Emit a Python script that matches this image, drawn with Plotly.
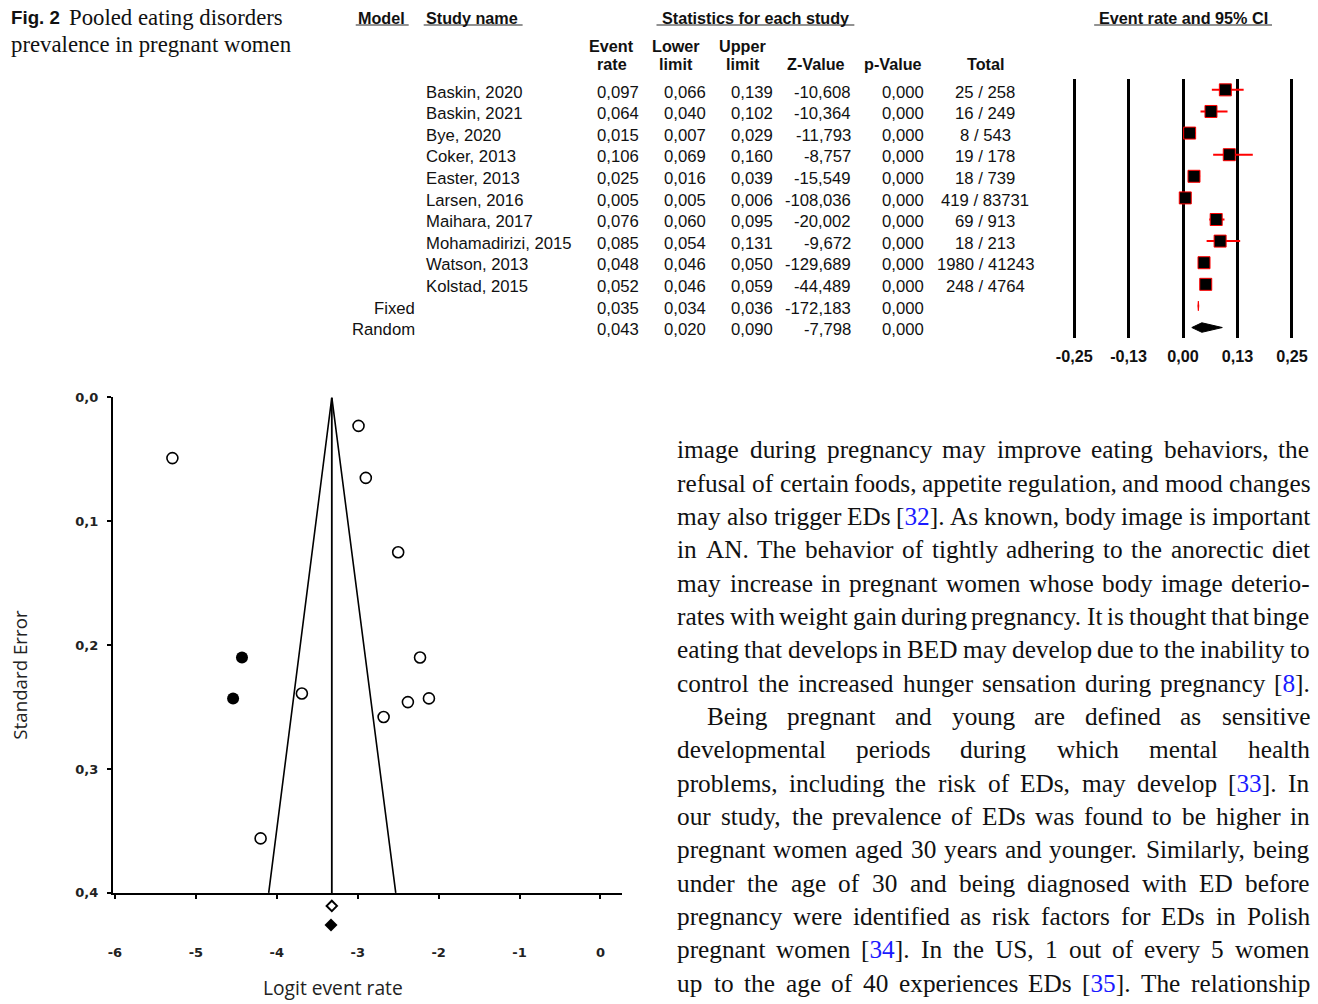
import re
import plotly.graph_objects as go

# Figure fills the 1318x1004 window; the photograph shows the window inside an
# 8px frame, shrunk to 1302x988.  Positions below are given in photograph pixels
# and converted with fx/fy; font sizes are compensated with SC.
W, H = 1318, 1004
FRAME = 8
VIS_W, VIS_H = W - 2 * FRAME, H - 2 * FRAME
SC = W / VIS_W

# ---------------- data: forest table ----------------
studies = ["Baskin, 2020", "Baskin, 2021", "Bye, 2020", "Coker, 2013", "Easter, 2013",
           "Larsen, 2016", "Maihara, 2017", "Mohamadirizi, 2015", "Watson, 2013", "Kolstad, 2015"]
event_rate = [0.097, 0.064, 0.015, 0.106, 0.025, 0.005, 0.076, 0.085, 0.048, 0.052]
lower_limit = [0.066, 0.040, 0.007, 0.069, 0.016, 0.005, 0.060, 0.054, 0.046, 0.046]
upper_limit = [0.139, 0.102, 0.029, 0.160, 0.039, 0.006, 0.095, 0.131, 0.050, 0.059]
z_value = [-10.608, -10.364, -11.793, -8.757, -15.549, -108.036, -20.002, -9.672, -129.689, -44.489]
p_value = [0.000] * 10
events = [25, 16, 8, 19, 18, 419, 69, 18, 1980, 248]
totals = [258, 249, 543, 178, 739, 83731, 913, 213, 41243, 4764]

pooled_models = ["Fixed", "Random"]
pooled_rate = [0.035, 0.043]
pooled_lower = [0.034, 0.020]
pooled_upper = [0.036, 0.090]
pooled_z = [-172.183, -7.798]
pooled_p = [0.000, 0.000]

forest_ticks = [-0.25, -0.125, 0.0, 0.125, 0.25]
forest_ticklabels = ["-0,25", "-0,13", "0,00", "0,13", "0,25"]

# ---------------- data: funnel plot ----------------
funnel_logit = [-2.23, -2.68, -4.20, -2.12, -3.69, -5.29, -2.50, -2.38, -2.99, -2.90]
funnel_se = [0.210, 0.258, 0.356, 0.243, 0.239, 0.049, 0.125, 0.246, 0.023, 0.065]
imputed_logit = [-4.43, -4.54]
imputed_se = [0.210, 0.243]
funnel_apex = -3.32
funnel_left = -4.10
funnel_right = -2.53
funnel_se_max = 0.4
observed_summary = -3.32
adjusted_summary = -3.33

funnel_xticks = [-6, -5, -4, -3, -2, -1, 0]
funnel_yticks = [0.0, 0.1, 0.2, 0.3, 0.4]
funnel_yticklabels = ["0,0", "0,1", "0,2", "0,3", "0,4"]

# ---------------- body text ----------------
body_lines = [
    "image during pregnancy may improve eating behaviors, the",
    "refusal of certain foods, appetite regulation, and mood changes",
    "may also trigger EDs [32]. As known, body image is important",
    "in AN. The behavior of tightly adhering to the anorectic diet",
    "may increase in pregnant women whose body image deterio-",
    "rates with weight gain during pregnancy. It is thought that binge",
    "eating that develops in BED may develop due to the inability to",
    "control the increased hunger sensation during pregnancy [8].",
    "Being pregnant and young are defined as sensitive",
    "developmental periods during which mental health",
    "problems, including the risk of EDs, may develop [33]. In",
    "our study, the prevalence of EDs was found to be higher in",
    "pregnant women aged 30 years and younger. Similarly, being",
    "under the age of 30 and being diagnosed with ED before",
    "pregnancy were identified as risk factors for EDs in Polish",
    "pregnant women [34]. In the US, 1 out of every 5 women",
    "up to the age of 40 experiences EDs [35]. The relationship",
]
indented_lines = [8]

# ---------------- helpers (photo pixel -> paper fraction) ----------------
def fx(px):
    return (px - FRAME) / VIS_W

def fy(py):
    return 1 - (py - FRAME) / VIS_H

SANS = "Liberation Sans, Arial, sans-serif"
SERIF = "Liberation Serif, Times New Roman, serif"

TIMES = {" ": 250, ",": 250, ".": 250, "-": 333, "[": 333, "]": 333, "(": 333, ")": 333,
         ":": 278, ";": 278, "'": 333}
for c in "0123456789":
    TIMES[c] = 500
TIMES.update(dict(zip("abcdefghijklmnopqrstuvwxyz",
                      [444, 500, 444, 500, 444, 333, 500, 500, 278, 278, 500, 278, 778,
                       500, 500, 500, 500, 333, 389, 278, 500, 500, 722, 500, 500, 444])))
TIMES.update(dict(zip("ABCDEFGHIJKLMNOPQRSTUVWXYZ",
                      [722, 667, 667, 722, 611, 556, 722, 722, 333, 389, 722, 611, 889,
                       722, 722, 556, 722, 667, 556, 611, 722, 722, 944, 722, 722, 611])))


def text_width(s, size):
    return sum(TIMES.get(c, 500) for c in s) * size / 1000.0


def fmt(v):
    return f"{v:.3f}".replace(".", ",")


annotations = []


def ann(text, x, y, xanchor="left", size=16, family=SANS, color="#111", bold=False,
        xref="paper", yref="paper", textangle=0):
    annotations.append(dict(
        text=text, x=x, y=y, xref=xref, yref=yref, xanchor=xanchor, yanchor="middle",
        showarrow=False, textangle=textangle, borderpad=0, borderwidth=0,
        font=dict(family=family, size=size * SC, color=color, weight="bold" if bold else "normal"),
    ))


fig = go.Figure()

# ---------------- forest plot traces ----------------
ci_x, ci_y = [], []
for i in range(len(studies)):
    ci_x += [lower_limit[i], upper_limit[i], None]
    ci_y += [i, i, None]
fig.add_trace(go.Scatter(x=ci_x, y=ci_y, mode="lines", line=dict(color="#ff0000", width=2),
                         hoverinfo="skip", showlegend=False, xaxis="x", yaxis="y"))
fig.add_trace(go.Scatter(x=event_rate, y=list(range(len(studies))), mode="markers",
                         marker=dict(symbol="square", size=12, color="black",
                                     line=dict(color="#ff0000", width=1)),
                         showlegend=False, xaxis="x", yaxis="y"))
DIAMOND_HALF = 0.22
for j in range(len(pooled_models)):
    r = len(studies) + j
    fig.add_trace(go.Scatter(
        x=[pooled_lower[j], pooled_rate[j], pooled_upper[j], pooled_rate[j], pooled_lower[j]],
        y=[r, r - DIAMOND_HALF, r, r + DIAMOND_HALF, r],
        mode="lines", fill="toself", fillcolor="black",
        line=dict(color="#ff0000" if j == 0 else "black", width=1),
        showlegend=False, xaxis="x", yaxis="y"))

# ---------------- funnel plot traces ----------------
fig.add_trace(go.Scatter(x=[funnel_left, funnel_apex, funnel_right], y=[funnel_se_max, 0, funnel_se_max],
                         mode="lines", line=dict(color="black", width=1.6),
                         showlegend=False, xaxis="x2", yaxis="y2"))
fig.add_trace(go.Scatter(x=[funnel_apex, funnel_apex], y=[0, funnel_se_max],
                         mode="lines", line=dict(color="black", width=1.8),
                         showlegend=False, xaxis="x2", yaxis="y2"))
fig.add_trace(go.Scatter(x=funnel_logit, y=funnel_se, mode="markers",
                         marker=dict(symbol="circle-open", size=11, color="black", line=dict(width=1.6)),
                         showlegend=False, xaxis="x2", yaxis="y2"))
fig.add_trace(go.Scatter(x=imputed_logit, y=imputed_se, mode="markers",
                         marker=dict(symbol="circle", size=12, color="black"),
                         showlegend=False, xaxis="x2", yaxis="y2"))
# summary estimates sit in a thin strip below the funnel axis (rows 0 and 1 of y3)
fig.add_trace(go.Scatter(x=[observed_summary], y=[0], mode="markers",
                         marker=dict(symbol="diamond-open", size=8, color="black", line=dict(width=2)),
                         showlegend=False, xaxis="x2", yaxis="y3"))
fig.add_trace(go.Scatter(x=[adjusted_summary], y=[1], mode="markers",
                         marker=dict(symbol="diamond", size=10, color="black"),
                         showlegend=False, xaxis="x2", yaxis="y3"))

# ---------------- table text ----------------
HDY = 1.5  # visual-centre correction for header text
ann("Model", fx(380), fy(17 + HDY), "center", 16, bold=True)
ann("Study name", fx(424), fy(17 + HDY), "left", 16, bold=True)
ann("Statistics for each study", fx(754), fy(17 + HDY), "center", 16, bold=True)
ann("Event rate and 95% CI", fx(1182), fy(17 + HDY), "center", 16, bold=True)
ann("Event", fx(610), fy(45 + HDY), "center", 16, bold=True)
ann("rate", fx(610), fy(63 + HDY), "center", 16, bold=True)
ann("Lower", fx(675), fy(45 + HDY), "center", 16, bold=True)
ann("limit", fx(675), fy(63 + HDY), "center", 16, bold=True)
ann("Upper", fx(741), fy(45 + HDY), "center", 16, bold=True)
ann("limit", fx(742), fy(63 + HDY), "center", 16, bold=True)
ann("Z-Value", fx(815), fy(63 + HDY), "center", 16, bold=True)
ann("p-Value", fx(892), fy(63 + HDY), "center", 16, bold=True)
ann("Total", fx(984), fy(63 + HDY), "center", 16, bold=True)

ROW_DY = 0.1  # visual-centre correction for row text (in row units)
TAB_SIZE = 16.5
COL_NAME, COL_ER, COL_LO, COL_UP, COL_Z, COL_P, COL_TOT, COL_MODEL = 424, 637, 705, 772, 850, 923, 984, 413
for i in range(len(studies)):
    kw = dict(yref="y", size=TAB_SIZE)
    r = i + ROW_DY
    ann(studies[i], fx(COL_NAME), r, "left", **kw)
    ann(fmt(event_rate[i]), fx(COL_ER), r, "right", **kw)
    ann(fmt(lower_limit[i]), fx(COL_LO), r, "right", **kw)
    ann(fmt(upper_limit[i]), fx(COL_UP), r, "right", **kw)
    ann(fmt(z_value[i]), fx(COL_Z), r, "right", **kw)
    ann(fmt(p_value[i]), fx(COL_P), r, "right", **kw)
    ann(f"{events[i]} / {totals[i]}", fx(COL_TOT), r, "center", **kw)
for j in range(len(pooled_models)):
    r = len(studies) + j + ROW_DY
    kw = dict(yref="y", size=TAB_SIZE)
    ann(pooled_models[j], fx(COL_MODEL), r, "right", **kw)
    ann(fmt(pooled_rate[j]), fx(COL_ER), r, "right", **kw)
    ann(fmt(pooled_lower[j]), fx(COL_LO), r, "right", **kw)
    ann(fmt(pooled_upper[j]), fx(COL_UP), r, "right", **kw)
    ann(fmt(pooled_z[j]), fx(COL_Z), r, "right", **kw)
    ann(fmt(pooled_p[j]), fx(COL_P), r, "right", **kw)

underlines = [(354, 407), (422, 521), (655, 853), (1093, 1271)]
shapes = [dict(type="line", xref="paper", yref="paper", x0=fx(a), x1=fx(b), y0=fy(26), y1=fy(26),
               line=dict(color="#6e6e6e", width=1.6)) for a, b in underlines]

# ---------------- caption ----------------
ann("Fig. 2", fx(9), fy(18.5), "left", 18.5, family=SANS, color="#111", bold=True)
ann("Pooled eating disorders", fx(67), fy(18.5), "left", 22.5, family=SERIF, color="#111")
ann("prevalence in pregnant women", fx(9), fy(45), "left", 22.5, family=SERIF, color="#111")

# ---------------- funnel axis titles ----------------
ann("Standard Error", fx(18), fy(675), "center", 18.5, family="Open Sans, sans-serif", color="#222",
    textangle=-90)
ann("Logit event rate", fx(331), fy(988), "center", 19, family="Open Sans, sans-serif", color="#222")

# ---------------- body text (justified, word by word) ----------------
BODY_SIZE = 25
BODY_LEFT, BODY_RIGHT, BODY_INDENT = 676, 1308, 30
BODY_Y0, BODY_DY = 450, 33.3
for i, line in enumerate(body_lines):
    y = fy(BODY_Y0 + i * BODY_DY)
    left = BODY_LEFT + (BODY_INDENT if i in indented_lines else 0)
    words = line.split(" ")
    widths = [text_width(w, BODY_SIZE) for w in words]
    gap = (BODY_RIGHT - left - sum(widths)) / (len(words) - 1)
    x = left
    for w, wd in zip(words, widths):
        txt = re.sub(r"\[(\d+)\]", r'[<span style="color:#1a1aff">\1</span>]', w)
        ann(txt, fx(x), y, "left", BODY_SIZE, family=SERIF, color="#111")
        x += wd + gap

# ---------------- layout ----------------
fig.update_layout(
    width=W, height=H, margin=dict(l=0, r=0, t=0, b=0),
    paper_bgcolor="white", plot_bgcolor="white", showlegend=False,
    xaxis=dict(domain=[fx(1064.3), fx(1299.7)], range=[-0.27, 0.27], anchor="y",
               tickvals=forest_ticks, ticktext=forest_ticklabels,
               showgrid=True, gridcolor="black", gridwidth=3, zeroline=False, showline=False,
               ticks="", ticklabelstandoff=6,
               tickfont=dict(family=SANS, size=16 * SC, color="#111", weight="bold"), fixedrange=True),
    yaxis=dict(domain=[fy(339), fy(80)], range=[11.5, -0.5], anchor="x", visible=False,
               showgrid=False, zeroline=False, fixedrange=True),
    xaxis2=dict(domain=[fx(111), fx(620)], range=[-6.025, 0.26], anchor="y2",
                tickvals=funnel_xticks, ticktext=[str(v) for v in funnel_xticks],
                showline=True, linecolor="black", linewidth=2, ticks="outside", ticklen=4,
                tickwidth=2, tickcolor="black", showgrid=False, zeroline=False,
                ticklabelstandoff=43,
                tickfont=dict(family="DejaVu Sans, sans-serif", size=13, color="#222", weight="bold"),
                fixedrange=True),
    yaxis2=dict(domain=[fy(893), fy(398)], range=[0.4, 0.0], anchor="x2",
                tickvals=funnel_yticks, ticktext=funnel_yticklabels,
                showline=True, linecolor="black", linewidth=2, ticks="outside", ticklen=4,
                tickwidth=2, tickcolor="black", showgrid=False, zeroline=False,
                ticklabelstandoff=6,
                tickfont=dict(family="DejaVu Sans, sans-serif", size=13, color="#222", weight="bold"),
                fixedrange=True),
    yaxis3=dict(domain=[fy(934.5), fy(896.5)], range=[1.5, -0.5], anchor="x2", visible=False,
                showgrid=False, zeroline=False, fixedrange=True),
    annotations=annotations, shapes=shapes,
)

fig.write_html("out.html", config={"displayModeBar": False},
               post_script="document.body.style.margin='0';document.body.style.overflow='hidden';")
